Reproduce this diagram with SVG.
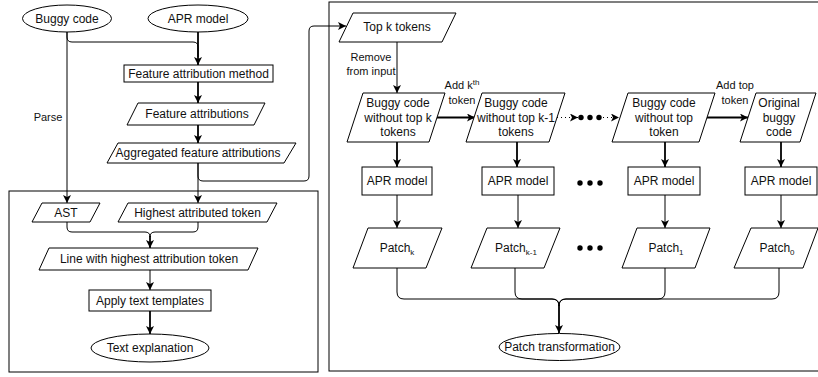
<svg xmlns="http://www.w3.org/2000/svg" width="818" height="377" viewBox="0 0 818 377">
<defs>
<style>
.s{fill:#fff;stroke:#000;stroke-width:1}
.t{font-family:"Liberation Sans",Arial,sans-serif;font-size:12px;fill:#111;text-anchor:middle}
.l{font-family:"Liberation Sans",Arial,sans-serif;font-size:11px;fill:#111;text-anchor:middle}
.c{fill:none;stroke:#000;stroke-width:1}
.cb{fill:none;stroke:#000;stroke-width:1.8}
.d{fill:none;stroke:#000;stroke-width:1;stroke-dasharray:1 3}
.dot{fill:#000}
.cont{fill:none;stroke:#000;stroke-width:1}
</style>
<marker id="ah" markerUnits="userSpaceOnUse" markerWidth="10" markerHeight="10" refX="8" refY="4" orient="auto"><path d="M0,0 L8,4 L0,8 L2,4 z" fill="#000"/></marker>
</defs>
<rect width="818" height="377" fill="#fff"/>
<g id="containers">
<rect class="cont" x="9" y="191" width="309" height="181"/>
<rect class="cont" x="329" y="2" width="494" height="369"/>
</g>
<g id="connectors">
<path class="c" d="M67,32 V37 Q67,42 72,42 H193 Q198,42 198,47 V57"/>
<path class="cb" d="M198,32 V65" marker-end="url(#ah)"/>
<path class="c" d="M67,32 V203" marker-end="url(#ah)"/>
<path class="cb" d="M198,82 V103" marker-end="url(#ah)"/>
<path class="cb" d="M198,125 V143" marker-end="url(#ah)"/>
<path class="c" d="M198,163 V203" marker-end="url(#ah)"/>
<path class="c" d="M198,163 V176 Q198,181 203,181 H304 Q309,181 309,176 V31 Q309,26 314,26 H346" marker-end="url(#ah)"/>
<path class="c" d="M67,222 V227 Q67,232 72,232 H145 Q150,232 150,237"/>
<path class="c" d="M198,222 V227 Q198,232 193,232 H155 Q150,232 150,237"/>
<path class="cb" d="M150,236 V248" marker-end="url(#ah)"/>
<path class="c" d="M150,270 V290" marker-end="url(#ah)"/>
<path class="cb" d="M150,311 V334" marker-end="url(#ah)"/>
<path class="c" d="M397,42 V93" marker-end="url(#ah)"/>
<path class="cb" d="M437,117.5 H475" marker-end="url(#ah)"/>
<path class="d" d="M557,117.5 H578" marker-end="url(#ah)"/>
<path class="d" d="M603,117.5 H619" marker-end="url(#ah)"/>
<path class="cb" d="M707,117.5 H748" marker-end="url(#ah)"/>
<path class="cb" d="M397,142 V167" marker-end="url(#ah)"/>
<path class="cb" d="M517,142 V167" marker-end="url(#ah)"/>
<path class="cb" d="M665,142 V167" marker-end="url(#ah)"/>
<path class="cb" d="M781,142 V167" marker-end="url(#ah)"/>
<path class="c" d="M397,195 V228" marker-end="url(#ah)"/>
<path class="c" d="M518,195 V228" marker-end="url(#ah)"/>
<path class="c" d="M665,195 V228" marker-end="url(#ah)"/>
<path class="c" d="M781,195 V228" marker-end="url(#ah)"/>
<path class="c" d="M397,268 V292 Q397,299 404,299 H552 Q559,299 559,306"/>
<path class="c" d="M515,268 V292 Q515,299 522,299 H552 Q559,299 559,306"/>
<path class="c" d="M665,268 V292 Q665,299 658,299 H566 Q559,299 559,306"/>
<path class="c" d="M779,268 V292 Q779,299 772,299 H566 Q559,299 559,306"/>
<path class="cb" d="M559,305 V333" marker-end="url(#ah)"/>
</g>
<g id="labels">
<text class="l" x="48" y="121">Parse</text>
<rect x="346" y="48" width="50" height="28" fill="#fff"/>
<text class="l" x="371" y="61">Remove</text>
<text class="l" x="371" y="75">from input</text>
<text class="l" x="462" y="89">Add k<tspan font-size="8" dy="-4">th</tspan></text>
<text class="l" x="462" y="104">token</text>
<text class="l" x="735" y="89">Add top</text>
<text class="l" x="735" y="104">token</text>
</g>
<g id="buggy-code"><ellipse class="s" cx="67" cy="18.5" rx="44.5" ry="13.5"/><text class="t" x="67" y="22.5">Buggy code</text></g>
<g id="apr-model-in"><ellipse class="s" cx="198" cy="18.5" rx="50" ry="13.5"/><text class="t" x="198" y="22.5">APR model</text></g>
<g id="feature-attribution-method"><rect class="s" x="124" y="65" width="149" height="17"/><text class="t" x="198.5" y="78">Feature attribution method</text></g>
<g id="feature-attributions"><polygon class="s" points="138,103 265,103 254,125 127,125"/><text class="t" x="197" y="118">Feature attributions</text></g>
<g id="aggregated"><polygon class="s" points="118,143 296,143 284,163 107,163"/><text class="t" x="198" y="157">Aggregated feature attributions</text></g>
<g id="ast"><polygon class="s" points="42,203 100,203 90,222 32,222"/><text class="t" x="66" y="217">AST</text></g>
<g id="highest-token"><polygon class="s" points="128,203 277,203 267,222 118,222"/><text class="t" x="197.5" y="217">Highest attributed token</text></g>
<g id="line-highest"><polygon class="s" points="49,248 258,248 248,270 39,270"/><text class="t" x="149" y="263">Line with highest attribution token</text></g>
<g id="apply-templates"><rect class="s" x="89" y="290" width="122" height="21"/><text class="t" x="150" y="305">Apply text templates</text></g>
<g id="text-explanation"><ellipse class="s" cx="150" cy="348" rx="59" ry="14"/><text class="t" x="150" y="352">Text explanation</text></g>
<g id="top-k-tokens"><polygon class="s" points="353,13 456,13 442,42 339,42"/><text class="t" x="397" y="31">Top k tokens</text></g>
<g id="box-k"><polygon class="s" points="363,93 445,93 429,142 347,142"/><text class="t" x="398" y="107">Buggy code</text><text class="t" x="398" y="121.5">without top k</text><text class="t" x="398" y="136">tokens</text></g>
<g id="box-k1"><polygon class="s" points="482,93 565,93 549,142 466,142"/><text class="t" x="516" y="107">Buggy code</text><text class="t" x="516" y="121.5">without top k-1</text><text class="t" x="516" y="136">tokens</text></g>
<g id="dots-1"><circle class="dot" cx="581" cy="117.5" r="2.7"/><circle class="dot" cx="590" cy="117.5" r="2.7"/><circle class="dot" cx="599" cy="117.5" r="2.7"/></g>
<g id="box-1"><polygon class="s" points="628,93 715,93 699,142 612,142"/><text class="t" x="664" y="107">Buggy code</text><text class="t" x="664" y="121.5">without top</text><text class="t" x="664" y="136">token</text></g>
<g id="box-0"><polygon class="s" points="756,93 816,93 800,142 740,142"/><text class="t" x="779" y="107">Original</text><text class="t" x="779" y="121.5">buggy</text><text class="t" x="779" y="136">code</text></g>
<g id="apr-k"><rect class="s" x="362" y="167" width="70" height="28"/><text class="t" x="397" y="185">APR model</text></g>
<g id="apr-k1"><rect class="s" x="482" y="167" width="72" height="28"/><text class="t" x="518" y="185">APR model</text></g>
<g id="dots-2"><circle class="dot" cx="580" cy="183" r="2.7"/><circle class="dot" cx="590" cy="183" r="2.7"/><circle class="dot" cx="600" cy="183" r="2.7"/></g>
<g id="apr-1"><rect class="s" x="628" y="167" width="72" height="28"/><text class="t" x="664" y="185">APR model</text></g>
<g id="apr-0"><rect class="s" x="745" y="167" width="72" height="28"/><text class="t" x="781" y="185">APR model</text></g>
<g id="patch-k"><polygon class="s" points="368,228 442,228 426,268 353,268"/><text class="t" x="397" y="252">Patch<tspan font-size="8" dy="3">k</tspan></text></g>
<g id="patch-k1"><polygon class="s" points="487,228 560,228 544,268 471,268"/><text class="t" x="516" y="252">Patch<tspan font-size="8" dy="3">k-1</tspan></text></g>
<g id="dots-3"><circle class="dot" cx="580" cy="248" r="2.7"/><circle class="dot" cx="590" cy="248" r="2.7"/><circle class="dot" cx="600" cy="248" r="2.7"/></g>
<g id="patch-1"><polygon class="s" points="637,228 710,228 695,268 622,268"/><text class="t" x="666" y="252">Patch<tspan font-size="8" dy="3">1</tspan></text></g>
<g id="patch-0"><polygon class="s" points="751,228 818,228 803,268 734,268"/><text class="t" x="777" y="252">Patch<tspan font-size="8" dy="3">0</tspan></text></g>
<g id="patch-transformation"><ellipse class="s" cx="559.5" cy="347" rx="60.5" ry="13.5"/><text class="t" x="559.5" y="351">Patch transformation</text></g>
</svg>
